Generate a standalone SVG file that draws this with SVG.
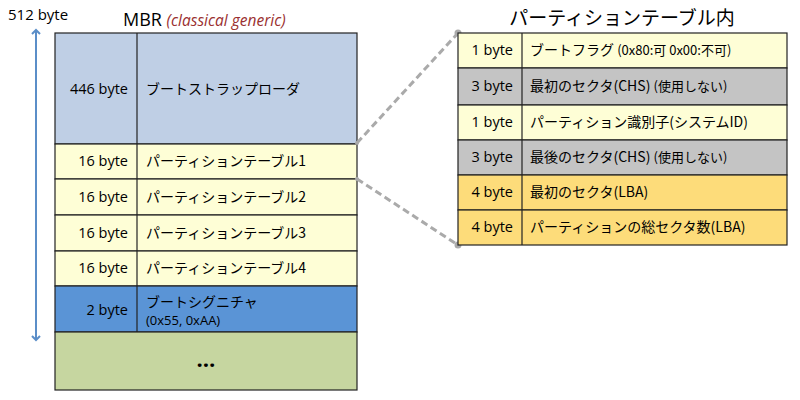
<svg xmlns="http://www.w3.org/2000/svg" width="800" height="400" viewBox="0 0 800 400">
<defs>
<style>
text{font-family:"Open Sans","Noto Sans CJK JP",sans-serif;fill:#000}
.jp{font-family:"Noto Sans CJK JP",sans-serif;font-size:14px}
.sz{font-size:14.5px;text-anchor:end}
.cell{stroke:#222;stroke-width:1.2}
.y{fill:#fefed6}.g{fill:#c4c4c4}.o{fill:#fddc7a}
.sm{font-size:13px}
</style>
<marker id="ah" viewBox="0 0 10 10" refX="5" refY="5" markerWidth="5" markerHeight="5" orient="auto-start-reverse">
<path d="M1,1 L5,5 L1,9" fill="none" stroke="#5b8ec8" stroke-width="2"/>
</marker>
</defs>
<rect width="800" height="400" fill="#fff"/>
<g id="size-arrow">
<line x1="36" y1="30" x2="36" y2="340" stroke="#5b8ec8" stroke-width="2" marker-start="url(#ah)" marker-end="url(#ah)"/>
<text x="8" y="20" style="font-size:15px">512 byte</text>
</g>
<g id="mbr-title">
<text x="123" y="26" style="font-size:18px">MBR <tspan style="font-size:15.5px;font-style:italic;fill:#9a3030">(classical generic)</tspan></text>
</g>
<g id="mbr">
<g id="boot-loader">
<rect class="cell" x="55" y="33" width="302" height="111" fill="#bfcfe5"/>
<line class="cell" x1="137" y1="33" x2="137" y2="144"/>
<text class="sz" x="128" y="94">446 byte</text>
<text class="jp" x="146" y="94">ブートストラップローダ</text>
</g>
<g id="pt1">
<rect class="cell y" x="55" y="144" width="302" height="35"/>
<line class="cell" x1="137" y1="144" x2="137" y2="179"/>
<text class="sz" x="128" y="166">16 byte</text>
<text class="jp" x="146" y="166">パーティションテーブル1</text>
</g>
<g id="pt2">
<rect class="cell y" x="55" y="179" width="302" height="36"/>
<line class="cell" x1="137" y1="179" x2="137" y2="215"/>
<text class="sz" x="128" y="202">16 byte</text>
<text class="jp" x="146" y="202">パーティションテーブル2</text>
</g>
<g id="pt3">
<rect class="cell y" x="55" y="215" width="302" height="36"/>
<line class="cell" x1="137" y1="215" x2="137" y2="251"/>
<text class="sz" x="128" y="238">16 byte</text>
<text class="jp" x="146" y="238">パーティションテーブル3</text>
</g>
<g id="pt4">
<rect class="cell y" x="55" y="251" width="302" height="35"/>
<line class="cell" x1="137" y1="251" x2="137" y2="286"/>
<text class="sz" x="128" y="273">16 byte</text>
<text class="jp" x="146" y="273">パーティションテーブル4</text>
</g>
<g id="signature">
<rect class="cell" x="55" y="286" width="302" height="46" fill="#5a94d6"/>
<line class="cell" x1="137" y1="286" x2="137" y2="332"/>
<text class="sz" x="128" y="315">2 byte</text>
<text class="jp" x="146" y="307">ブートシグニチャ</text>
<text class="sm" x="146" y="325">(0x55, 0xAA)</text>
</g>
<g id="rest">
<rect class="cell" x="55" y="332" width="302" height="58" fill="#c6d6a0"/>
<text x="206" y="367" style="font-size:22px;font-weight:bold;text-anchor:middle">…</text>
</g>
</g>
<g id="connectors" stroke="#aaa" stroke-width="3" stroke-dasharray="7,4" fill="#aaa">
<line x1="357" y1="143" x2="458" y2="33"/>
<line x1="357" y1="179" x2="458" y2="245"/>
<g stroke="none">
<circle cx="357" cy="143" r="2"/>
<circle cx="357" cy="179" r="2"/>
<circle cx="458" cy="33" r="3.5"/>
<circle cx="458" cy="245" r="3.5"/>
</g>
</g>
<g id="pt-title">
<text x="622" y="25" style="font-family:'Noto Sans CJK JP',sans-serif;font-size:19px;text-anchor:middle">パーティションテーブル内</text>
</g>
<g id="pt-detail">
<g id="boot-flag">
<rect class="cell y" x="458" y="33" width="329" height="35"/>
<line class="cell" x1="522" y1="33" x2="522" y2="68"/>
<text class="sz" x="513" y="55">1 byte</text>
<text class="jp" x="530" y="55">ブートフラグ <tspan class="sm">(0x80:可 0x00:不可)</tspan></text>
</g>
<g id="first-chs">
<rect class="cell g" x="458" y="68" width="329" height="37"/>
<line class="cell" x1="522" y1="68" x2="522" y2="105"/>
<text class="sz" x="513" y="91">3 byte</text>
<text class="jp" x="530" y="91">最初のセクタ(CHS) <tspan class="sm">(使用しない)</tspan></text>
</g>
<g id="system-id">
<rect class="cell y" x="458" y="105" width="329" height="35"/>
<line class="cell" x1="522" y1="105" x2="522" y2="140"/>
<text class="sz" x="513" y="127">1 byte</text>
<text class="jp" x="530" y="127">パーティション識別子(システムID)</text>
</g>
<g id="last-chs">
<rect class="cell g" x="458" y="140" width="329" height="35"/>
<line class="cell" x1="522" y1="140" x2="522" y2="175"/>
<text class="sz" x="513" y="162">3 byte</text>
<text class="jp" x="530" y="162">最後のセクタ(CHS) <tspan class="sm">(使用しない)</tspan></text>
</g>
<g id="first-lba">
<rect class="cell o" x="458" y="175" width="329" height="35"/>
<line class="cell" x1="522" y1="175" x2="522" y2="210"/>
<text class="sz" x="513" y="197">4 byte</text>
<text class="jp" x="530" y="197">最初のセクタ(LBA)</text>
</g>
<g id="total-lba">
<rect class="cell o" x="458" y="210" width="329" height="35"/>
<line class="cell" x1="522" y1="210" x2="522" y2="245"/>
<text class="sz" x="513" y="232">4 byte</text>
<text class="jp" x="530" y="232">パーティションの総セクタ数(LBA)</text>
</g>
</g>
</svg>
